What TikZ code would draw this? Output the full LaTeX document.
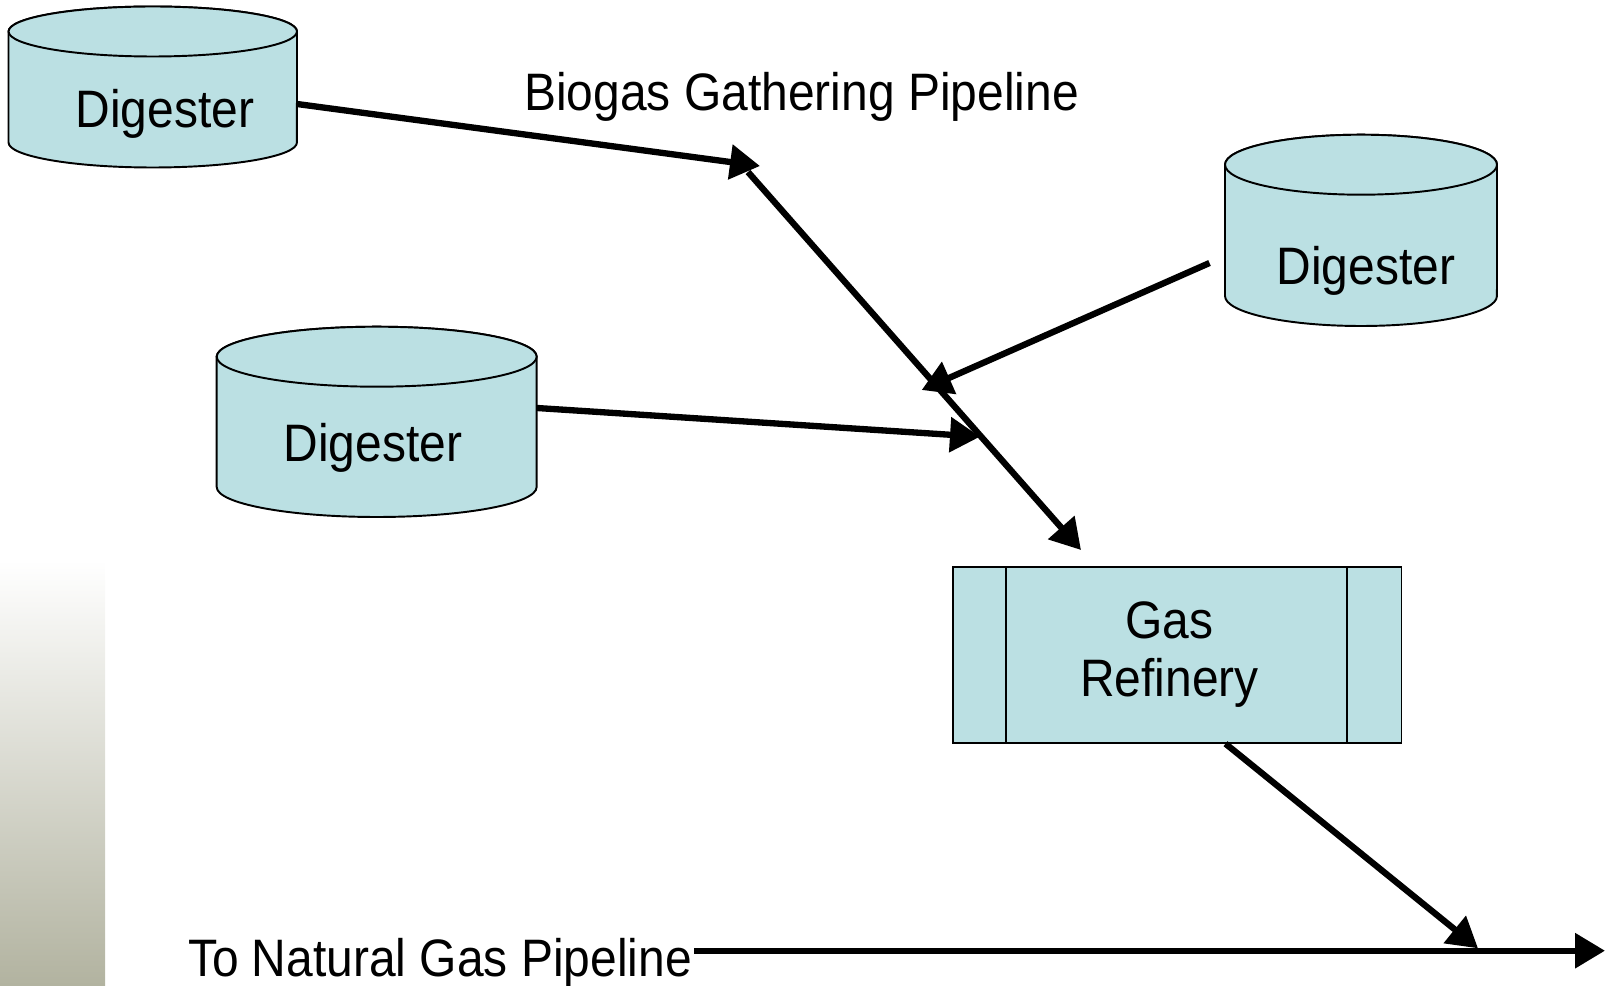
\documentclass[tikz,border=0pt]{standalone}
\usepackage{fontspec}
\setmainfont{Liberation Sans}[FakeStretch=0.91]
\usetikzlibrary{arrows.meta, positioning, calc}

\definecolor{tankfill}{RGB}{187,224,227}
\definecolor{barshade}{RGB}{178,179,160}

\begin{document}
\begin{tikzpicture}[x=0.02cm, y=0.02cm,
  tank/.style={draw=black, fill=tankfill, line width=1.1pt},
  refbox/.style={draw=black, fill=tankfill, line width=1.1pt, minimum width=8.98cm, minimum height=3.51cm, align=center, inner sep=0pt},
  pipe/.style={-{Triangle[length=0.6cm, width=0.68cm]}, line width=3.6pt},
  every node/.style={font=\fontsize{30}{33}\selectfont}
]
\useasboundingbox (0,0) rectangle (1606,985);

% SIDE BAR
\shade[top color=white, bottom color=barshade] (0,0) rectangle (105,425);

% DIGESTERS
\path[tank] (8.5,953.5) -- (8.5,842.5) arc[start angle=180, end angle=360, x radius=2.885cm, y radius=0.5cm]
  -- (297,953.5) arc[start angle=0, end angle=180, x radius=2.885cm, y radius=0.5cm] -- cycle;
\path[tank] (152.75,953.5) ellipse[x radius=2.885cm, y radius=0.5cm];
\node[anchor=base] (dig1) at (165,857.3) {Digester};

\path[tank] (1225,820.3) -- (1225,689) arc[start angle=180, end angle=360, x radius=2.72cm, y radius=0.6cm]
  -- (1497,820.3) arc[start angle=0, end angle=180, x radius=2.72cm, y radius=0.6cm] -- cycle;
\path[tank] (1361,820.3) ellipse[x radius=2.72cm, y radius=0.6cm];
\node[anchor=base] (dig2) at (1366,700) {Digester};

\path[tank] (216.7,628.3) -- (216.7,498) arc[start angle=180, end angle=360, x radius=3.2cm, y radius=0.6cm]
  -- (536.7,628.3) arc[start angle=0, end angle=180, x radius=3.2cm, y radius=0.6cm] -- cycle;
\path[tank] (376.7,628.3) ellipse[x radius=3.2cm, y radius=0.6cm];
\node[anchor=base] (dig3) at (373,523.3) {Digester};

% GAS REFINERY
\node[refbox] (refinery) at (1177,330) {Gas\hspace*{0.3cm}\\Refinery\hspace*{0.3cm}};
\draw[line width=1.1pt] ([xshift=1.08cm]refinery.north west) -- ([xshift=1.08cm]refinery.south west);
\draw[line width=1.1pt] ([xshift=-1.1cm]refinery.north east) -- ([xshift=-1.1cm]refinery.south east);

% LABELS
\node[anchor=base] (gathering) at (801.5,874) {Biogas Gathering Pipeline};
\node[anchor=base east, inner xsep=1pt] (natgas) at (694,9) {To Natural Gas Pipeline};

% PIPE POINTS
\coordinate (dig1out) at (297,881);
\coordinate (dig2out) at (1209.5,722);
\coordinate (dig3out) at (537,577);
\coordinate (gathertop) at (760,819);
\coordinate (gatherstart) at (748,813);
\coordinate (join2) at (921.7,595);
\coordinate (join3) at (980,548.3);
\coordinate (refinlet) at (1081,435);
\coordinate (feedin) at (1478,36.7);
\coordinate (natend) at (1605,34.3);

% Connections
\draw[pipe] (dig1out) -- (gathertop);
\draw[pipe] (gatherstart) -- (refinlet);
\draw[pipe] (dig2out) -- (join2);
\draw[pipe] (dig3out) -- (join3);
\draw[pipe] ([xshift=0.97cm]refinery.south) -- (feedin);
\draw[pipe] (natgas.east |- natend) -- (natend);

\end{tikzpicture}
\end{document}
